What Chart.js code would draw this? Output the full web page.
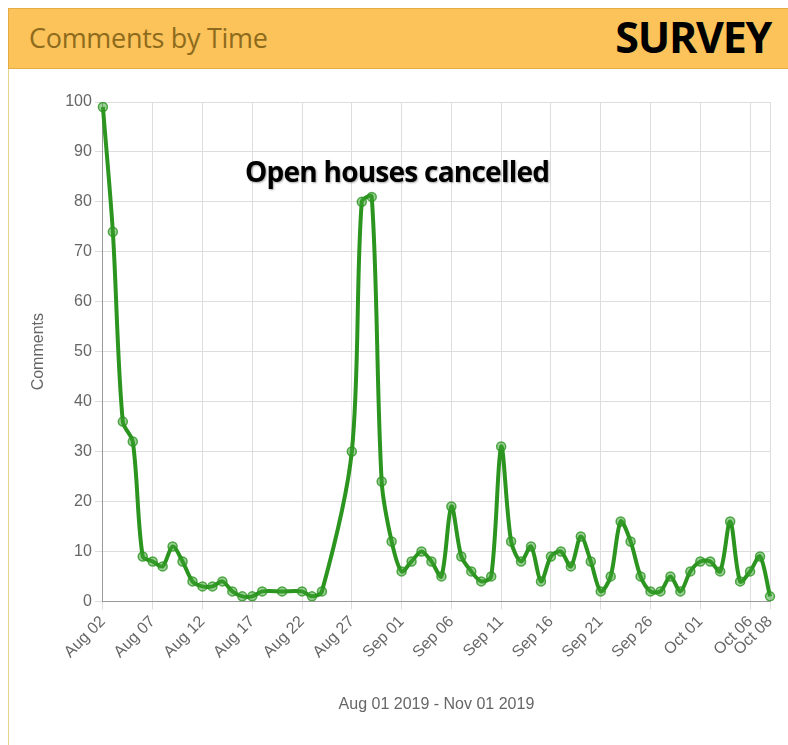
<!DOCTYPE html>
<html>
<head>
<meta charset="utf-8">
<script src="https://cdn.jsdelivr.net/npm/chart.js@4"></script>
<style>
  body { margin: 0; background: #fff; font-family: "Liberation Sans", Arial, sans-serif; }
  #header {
    position: absolute; left: 8px; top: 8px; width: 790px; height: 61px;
    background: #fbc35a; border: 1px solid #e2ad45; box-sizing: border-box;
  }
  #header .title {
    position: absolute; left: 20px; top: 10px; font-family: "Open Sans", sans-serif;
    font-size: 27px; color: #8e6b1c; letter-spacing: -0.3px;
  }
  #header .tag {
    position: absolute; right: 26px; top: -2px; font-family: "Open Sans", sans-serif;
    font-weight: bold; font-size: 43px; color: #000; letter-spacing: -1.3px;
  }
  #panel {
    position: absolute; left: 8px; top: 69px; width: 790px; height: 690px;
    border-left: 1px solid #e8d28a; box-sizing: border-box;
  }
  #box { position: absolute; left: 10px; top: 80px; width: 778px; height: 634px; }
  #note {
    position: absolute; left: 245px; top: 152px; font-family: "Open Sans", sans-serif;
    font-weight: bold; font-size: 28px; color: #000; letter-spacing: -0.75px;
    text-shadow: 1px 1px 2px rgba(0,0,0,0.35);
  }
</style>
</head>
<body>
<div id="header"><div class="title">Comments by Time</div><div class="tag">SURVEY</div></div>
<div id="panel"></div>
<div id="box"><canvas id="commentsChart"></canvas></div>
<div id="note">Open houses cancelled</div>
<script>
// one label per day, Aug 02 - Oct 08 2019
const days = [
  'Aug 02','Aug 03','Aug 04','Aug 05','Aug 06','Aug 07','Aug 08','Aug 09','Aug 10','Aug 11',
  'Aug 12','Aug 13','Aug 14','Aug 15','Aug 16','Aug 17','Aug 18','Aug 19','Aug 20','Aug 21',
  'Aug 22','Aug 23','Aug 24','Aug 25','Aug 26','Aug 27','Aug 28','Aug 29','Aug 30','Aug 31',
  'Sep 01','Sep 02','Sep 03','Sep 04','Sep 05','Sep 06','Sep 07','Sep 08','Sep 09','Sep 10',
  'Sep 11','Sep 12','Sep 13','Sep 14','Sep 15','Sep 16','Sep 17','Sep 18','Sep 19','Sep 20',
  'Sep 21','Sep 22','Sep 23','Sep 24','Sep 25','Sep 26','Sep 27','Sep 28','Sep 29','Sep 30',
  'Oct 01','Oct 02','Oct 03','Oct 04','Oct 05','Oct 06','Oct 07','Oct 08'
];

// comments per day (null = no data that day)
const comments = [
  99, 74, 36, 32, 9, 8, 7, 11, 8, 4,
  3, 3, 4, 2, 1, 1, 2, null, 2, null,
  2, 1, 2, null, null, 30, 80, 81, 24, 12,
  6, 8, 10, 8, 5, 19, 9, 6, 4, 5,
  31, 12, 8, 11, 4, 9, 10, 7, 13, 8,
  2, 5, 16, 12, 5, 2, 2, 5, 2, 6,
  8, 8, 6, 16, 4, 6, 9, 1
];

const yMin = 0;
const yMax = 100;
const yStep = 10;

const green = '#2b951f';

new Chart(document.querySelector('#commentsChart'), {
  type: 'line',
  data: {
    labels: days,
    datasets: [{
      label: 'Comments',
      data: comments,
      borderColor: green,
      backgroundColor: 'rgba(43,149,31,0.45)',
      borderWidth: 4,
      pointRadius: 4.5,
      pointBorderWidth: 1.5,
      pointBorderColor: 'rgba(43,149,31,0.8)',
      pointBackgroundColor: 'rgba(60,160,50,0.5)',
      tension: 0.3,
      spanGaps: true,
      fill: false
    }]
  },
  options: {
    responsive: true,
    maintainAspectRatio: false,
    animation: false,
    layout: { padding: { left: 19, right: 18, top: 22, bottom: 0 } },
    plugins: {
      legend: { display: false },
      tooltip: { enabled: false }
    },
    scales: {
      x: {
        grid: { color: '#dddddd', tickLength: 8 },
        border: { color: '#999' },
        ticks: {
          autoSkip: false,
          maxRotation: 45,
          minRotation: 45,
          color: '#666',
          font: { family: 'Liberation Sans', size: 16 },
          callback: function (value, index) {
            if (index % 5 === 0 || index === days.length - 1) {
              return this.getLabelForValue(value);
            }
            return null;
          }
        },
        title: {
          display: true,
          text: 'Aug 01 2019 - Nov 01 2019',
          color: '#666',
          font: { family: 'Liberation Sans', size: 16 },
          padding: { top: 30, bottom: 0 }
        }
      },
      y: {
        min: yMin,
        max: yMax,
        grid: { color: '#dddddd', tickLength: 8 },
        border: { color: '#999' },
        ticks: {
          stepSize: yStep,
          color: '#666',
          font: { family: 'Liberation Sans', size: 16 }
        },
        title: {
          display: true,
          text: 'Comments',
          color: '#666',
          font: { family: 'Liberation Sans', size: 16 },
          padding: { top: 0, bottom: 14 }
        }
      }
    }
  }
});
</script>
</body>
</html>
